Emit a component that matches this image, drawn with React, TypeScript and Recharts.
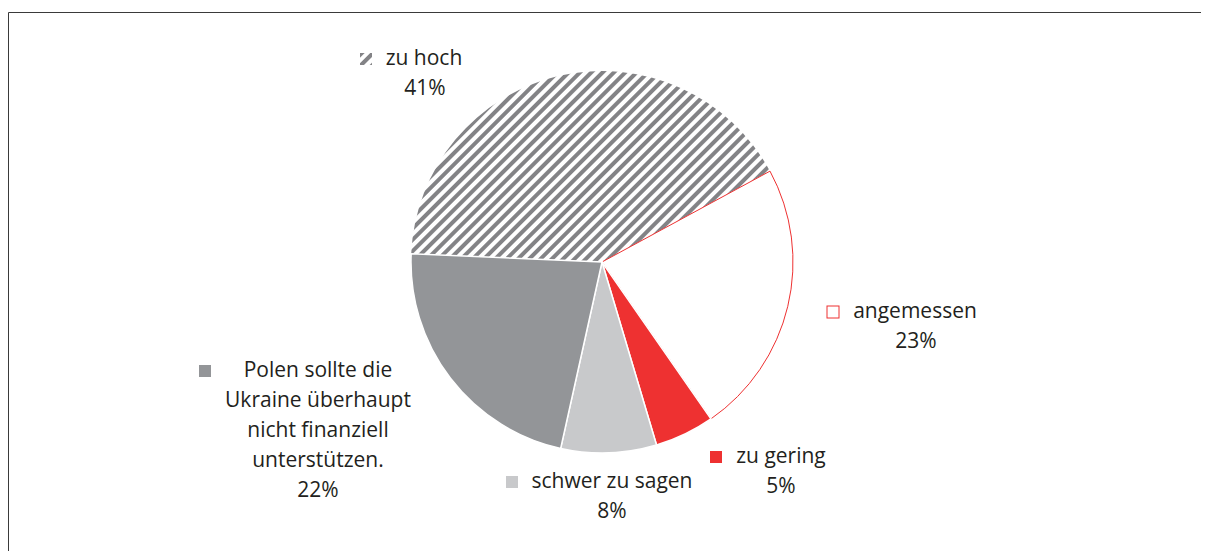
import { PieChart, Pie, Cell } from "recharts"

const categories = [
  ["zu hoch"],
  ["angemessen"],
  ["zu gering"],
  ["schwer zu sagen"],
  ["Polen sollte die", "Ukraine überhaupt", "nicht finanziell", "unterstützen."],
]
const shares = [41, 23, 5, 8, 22]

const fills = ["url(#hatch)", "#ffffff", "#ee3131", "#c8c9cb", "#939598"]
const strokes = ["none", "#ee3131", "#ffffff", "#ffffff", "#ffffff"]
const markerFills = ["url(#hatch)", "#ffffff", "#ee3131", "#c8c9cb", "#939598"]
const markerStrokes = ["none", "#ee3131", "none", "none", "none"]

// label placement (svg coords): text centre, first baseline, marker centre, percent centre
const labelLayout = [
  { x: 416, y: 57, mx: 358, px: 417 },
  { x: 907, y: 310, mx: 825, px: 908 },
  { x: 773, y: 455, mx: 708, px: 773 },
  { x: 604, y: 480, mx: 504, px: 604 },
  { x: 310, y: 369, mx: 197, px: 310 },
]

const data = categories.map((lines, i) => ({ name: lines.join(" "), value: shares[i] }))

const FONT = "'Open Sans', sans-serif"

function renderLabel(props: any) {
  const i = props.index
  const l = labelLayout[i]
  const lines = categories[i]
  const lh = 30
  return (
    <g key={`lbl-${i}`}>
      <rect x={l.mx - 6} y={l.y - 12} width={12} height={12} fill={markerFills[i]} stroke={markerStrokes[i]} strokeWidth={1} />
      {lines.map((t, j) => (
        <text key={j} x={l.x} y={l.y + j * lh} textAnchor="middle" fontFamily={FONT} fontSize={21} fill="#231f20">
          {t}
        </text>
      ))}
      <text x={l.px} y={l.y + lines.length * lh} textAnchor="middle" fontFamily={FONT} fontSize={21} fill="#231f20">
        {shares[i]}%
      </text>
    </g>
  )
}

export default function App() {
  return (
    <div style={{ position: "relative", width: 1201, height: 543 }}>
      <svg width={1201} height={543} style={{ position: "absolute", left: 0, top: 0 }}>
        <line x1={0.5} y1={4.5} x2={1201} y2={4.5} stroke="#3a3a3a" strokeWidth={1} />
        <line x1={0.5} y1={4.5} x2={0.5} y2={543} stroke="#3a3a3a" strokeWidth={1} />
      </svg>
      <div style={{ position: "absolute", left: 0, top: 0 }}>
        <PieChart width={1201} height={543}>
          <defs>
            <pattern id="hatch" width={8} height={8} patternUnits="userSpaceOnUse" patternTransform="rotate(45)">
              <rect x={0} y={0} width={8} height={8} fill="#ffffff" />
              <rect x={0} y={0} width={4} height={8} fill="#838386" />
            </pattern>
          </defs>
          <Pie
            data={data}
            dataKey="value"
            cx={589}
            cy={249}
            outerRadius={191}
            startAngle={177.5}
            endAngle={-182.5}
            label={renderLabel}
            labelLine={false}
            isAnimationActive={false}
          >
            {data.map((d, i) => (
              <Cell key={`cell-${i}`} fill={fills[i]} stroke={strokes[i]} strokeWidth={i === 1 ? 1 : 1.5} />
            ))}
          </Pie>
        </PieChart>
      </div>
    </div>
  )
}
